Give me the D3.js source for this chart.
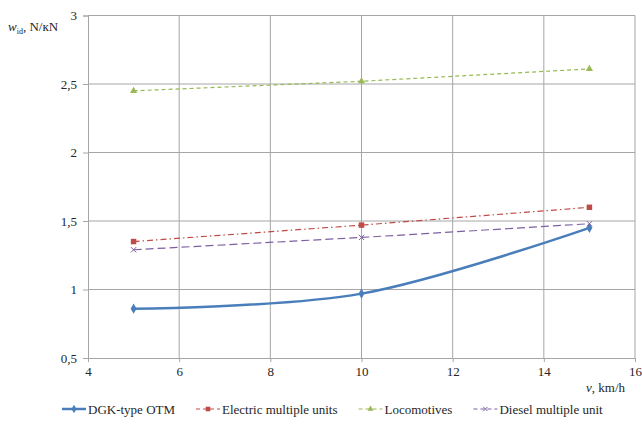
<!DOCTYPE html>
<html>
<head>
<meta charset="utf-8">
<script src="https://cdn.jsdelivr.net/npm/d3@7"></script>
</head>
<body style="margin:0; background:#fff">
<svg width="642" height="426"></svg>
<script>
// speeds, km/h
var speeds = [5, 10, 15];
// specific resistance values, N/kN
var dgkOtm = [0.86, 0.97, 1.45];
var electricMU = [1.35, 1.47, 1.60];
var locomotives = [2.45, 2.52, 2.61];
var dieselMU = [1.29, 1.38, 1.48];

var seriesNames = ['DGK-type OTM', 'Electric multiple units', 'Locomotives', 'Diesel multiple unit'];
var xTicks = [4, 6, 8, 10, 12, 14, 16];
var yTicks = [0.5, 1, 1.5, 2, 2.5, 3];

function drawChart()
{
    var svg = d3.select('svg');
    var left = 88, right = 635, top = 15.5, bottom = 358;

    var xScale = d3.scaleLinear().domain([4, 16]).range([left, right]);
    var yScale = d3.scaleLinear().domain([0.5, 3]).range([bottom, top]);

    // gridlines
    svg.append('g').selectAll('line')
        .data(yTicks.slice(1))
        .enter().append('line')
        .attr('x1', left).attr('x2', right)
        .attr('y1', d => yScale(d)).attr('y2', d => yScale(d))
        .attr('stroke', '#a6a6a6').attr('stroke-width', 1);
    svg.append('g').selectAll('line')
        .data(xTicks.slice(1))
        .enter().append('line')
        .attr('x1', d => xScale(d)).attr('x2', d => xScale(d))
        .attr('y1', top).attr('y2', bottom)
        .attr('stroke', '#a6a6a6').attr('stroke-width', 1);

    // axes
    var fmt = d => d3.format('')(d).replace('.', ',');
    var xAxis = svg.append('g')
        .attr('transform', `translate(0, ${bottom})`)
        .call(d3.axisBottom(xScale).tickValues(xTicks).tickFormat(fmt).tickSize(4).tickPadding(5));
    var yAxis = svg.append('g')
        .attr('transform', `translate(${left}, 0)`)
        .call(d3.axisLeft(yScale).tickValues(yTicks).tickFormat(fmt).tickSize(5).tickPadding(6));
    [xAxis, yAxis].forEach(function(ax) {
        ax.select('.domain').attr('stroke', '#a6a6a6');
        ax.selectAll('.tick line').attr('stroke', '#a6a6a6');
        ax.selectAll('.tick text')
            .style('font-size', '13px')
            .attr('fill', '#262626');
    });

    // series
    var series = [
        {name: seriesNames[0], values: dgkOtm, color: '#4a7ebb', width: 2.5, dash: null, marker: d3.symbolDiamond, size: 30, smooth: true},
        {name: seriesNames[1], values: electricMU, color: '#be4b48', width: 1.2, dash: '6,3,1.5,3', marker: d3.symbolSquare, size: 30},
        {name: seriesNames[2], values: locomotives, color: '#98b954', width: 1.2, dash: '4,3', marker: d3.symbolTriangle, size: 22},
        {name: seriesNames[3], values: dieselMU, color: '#7d60a0', width: 1.2, dash: '8,4', marker: d3.symbolX, size: 20}
    ];

    series.forEach(function(s) {
        var pts = speeds.map((v, i) => [v, s.values[i]]);
        var line = d3.line()
            .x(d => xScale(d[0]))
            .y(d => yScale(d[1]))
            .curve(s.smooth ? d3.curveCardinal.tension(0) : d3.curveLinear);
        svg.append('path')
            .attr('d', line(pts))
            .attr('fill', 'none')
            .attr('stroke', s.color)
            .attr('stroke-width', s.width)
            .attr('stroke-dasharray', s.dash);
        svg.append('g').selectAll('path')
            .data(pts)
            .enter().append('path')
            .attr('transform', d => `translate(${xScale(d[0])}, ${yScale(d[1])})`)
            .attr('d', d3.symbol().type(s.marker).size(s.size))
            .attr('fill', s.marker === d3.symbolX ? 'none' : s.color)
            .attr('stroke', s.marker === d3.symbolX ? s.color : 'none')
            .attr('stroke-width', 1);
    });

    // axis titles
    var yt = svg.append('text').attr('x', 8).attr('y', 31).style('font-size', '13px');
    yt.append('tspan').text('w').style('font-style', 'italic');
    yt.append('tspan').text('id').style('font-size', '8px').attr('dy', 3);
    yt.append('tspan').text(', N/кN').attr('dy', -3);

    var xt = svg.append('text').attr('x', 625).attr('y', 392)
        .attr('text-anchor', 'end').style('font-size', '13px');
    xt.append('tspan').text('v').style('font-style', 'italic');
    xt.append('tspan').text(', km/h');

    // legend
    var legend = svg.append('g');
    var lx = 62, ly = 409;
    series.forEach(function(s) {
        var g = legend.append('g').attr('transform', `translate(${lx}, ${ly})`);
        g.append('line').attr('x1', 0).attr('x2', 24).attr('y1', 0).attr('y2', 0)
            .attr('stroke', s.color).attr('stroke-width', s.smooth ? 2.5 : 1.2)
            .attr('stroke-dasharray', s.dash ? '4,3' : null);
        g.append('path').attr('transform', 'translate(12,0)')
            .attr('d', d3.symbol().type(s.marker).size(s.size * 0.7))
            .attr('fill', s.marker === d3.symbolX ? 'none' : s.color)
            .attr('stroke', s.marker === d3.symbolX ? s.color : 'none');
        var t = g.append('text').attr('x', 26).attr('y', 4.5)
            .style('font-size', '13px')
            .style('font-family', "'Liberation Serif'")
            .text(s.name);
        lx += 26 + t.node().getComputedTextLength() + 21;
    });

    svg.selectAll('text')
        .style('font-family', "'Liberation Serif'")
        .style('fill', '#262626');
}

drawChart();
</script>
</body>
</html>
